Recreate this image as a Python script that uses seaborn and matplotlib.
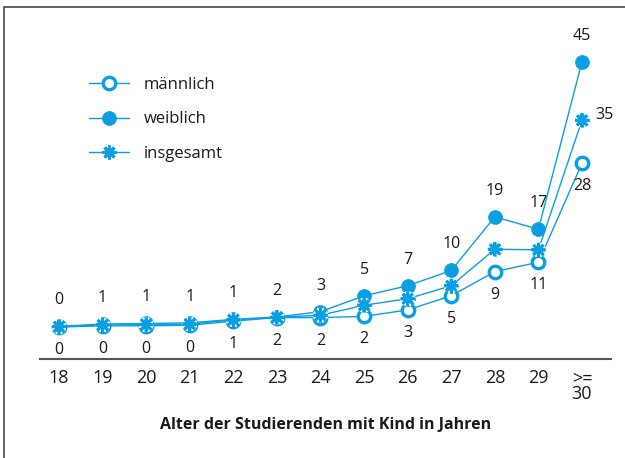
import matplotlib
matplotlib.use("Agg")
import matplotlib.pyplot as plt
import matplotlib.patheffects as pe
from matplotlib.patches import Rectangle
import seaborn as sns
import pandas as pd

# ---- data ----
ages = ["18", "19", "20", "21", "22", "23", "24", "25", "26", "27", "28", "29", ">=\n30"]
maennlich = [0.0, 0.2, 0.2, 0.3, 1.0, 1.6, 1.6, 1.8, 2.9, 5.3, 9.4, 11.0, 27.8]
weiblich = [0.1, 0.5, 0.6, 0.7, 1.3, 1.7, 2.6, 5.3, 7.0, 9.6, 18.7, 16.6, 45.0]
insgesamt = [0.05, 0.35, 0.4, 0.5, 1.2, 1.65, 2.0, 3.7, 4.8, 7.0, 13.2, 13.1, 35.1]
labels_m = ["0", "0", "0", "0", "1", "2", "2", "2", "3", "5", "9", "11", "28"]
labels_w = ["0", "1", "1", "1", "1", "2", "3", "5", "7", "10", "19", "17", "45"]
label_total_last = "35"
series_names = ["männlich", "weiblich", "insgesamt"]
xlabel = "Alter der Studierenden mit Kind in Jahren"

BLUE = "#0a9fe2"

sns.set_theme(style="white")
plt.rcParams["font.family"] = ["Open Sans", "DejaVu Sans"]

fig = plt.figure(figsize=(6.25, 4.58), dpi=100)
W, H = 625, 458
ax = fig.add_axes([40 / W, 1 - 359 / H, (611 - 40) / W, (359 - 20) / H])

x = list(range(len(ages)))
df = pd.DataFrame({"x": x, "m": maennlich, "w": weiblich, "t": insgesamt})

sns.lineplot(data=df, x="x", y="m", ax=ax, color=BLUE, lw=1.0, marker="o",
             markersize=9, markerfacecolor="white", markeredgecolor=BLUE,
             markeredgewidth=2.4, label=series_names[0], zorder=3)
sns.lineplot(data=df, x="x", y="w", ax=ax, color=BLUE, lw=1.0, marker="o",
             markersize=10, markerfacecolor=BLUE, markeredgecolor=BLUE,
             markeredgewidth=0.5, label=series_names[1], zorder=4)
sns.lineplot(data=df, x="x", y="t", ax=ax, color=BLUE, lw=1.0, marker=(8, 2, 0),
             markersize=10, markeredgecolor=BLUE, markeredgewidth=2.1,
             label=series_names[2], zorder=5)
# white halo around asterisks
ax.plot(df["x"], df["t"], linestyle="none", marker=(8, 2, 0), markersize=10,
        markeredgecolor=BLUE, markeredgewidth=2.1, zorder=6,
        path_effects=[pe.Stroke(linewidth=4, foreground="white"), pe.Normal()])

lab_kw = dict(ha="center", va="center", fontsize=11.5, color="#1a1a1a",
              textcoords="offset pixels")
for i in x:
    ax.annotate(labels_w[i], (i, weiblich[i]), xytext=(0, 26), **lab_kw)
    ax.annotate(labels_m[i], (i, maennlich[i]), xytext=(0, -23), **lab_kw)
ax.annotate(label_total_last, (x[-1], insgesamt[-1]), xytext=(22, 5), **lab_kw)

px = 5.89
ax.set_ylim(-32 / px, (327 - 20) / px)
ax.set_xlim(-19 / 43.58, 12 + 29 / 43.58)
ax.set_xticks(x)
ax.set_xticklabels(ages, fontsize=13, color="#1a1a1a", linespacing=0.9)
ax.tick_params(axis="x", length=0, pad=7)
ax.set_yticks([])
ax.set_ylabel("")
ax.set_xlabel(xlabel, fontsize=11.5, fontweight="bold", color="#1a1a1a", labelpad=10)
for s in ["top", "right", "left"]:
    ax.spines[s].set_visible(False)
ax.spines["bottom"].set_color("#555555")
ax.spines["bottom"].set_linewidth(1.5)

leg = ax.legend(loc="upper left", bbox_to_anchor=(42 / (611 - 40), (359 - 70) / 339),
                frameon=False, fontsize=12, handlelength=2.4, labelspacing=1.12,
                handletextpad=0.9, borderaxespad=0)
for t in leg.get_texts():
    t.set_color("#1a1a1a")

# outer frame (left and top edges visible)
fig.patches.append(Rectangle((4 / W, -0.1), 1.2, 1 - 7 / H + 0.1,
                             transform=fig.transFigure, fill=False,
                             edgecolor="#555555", lw=1.3))

fig.savefig("out.png", dpi=100)
